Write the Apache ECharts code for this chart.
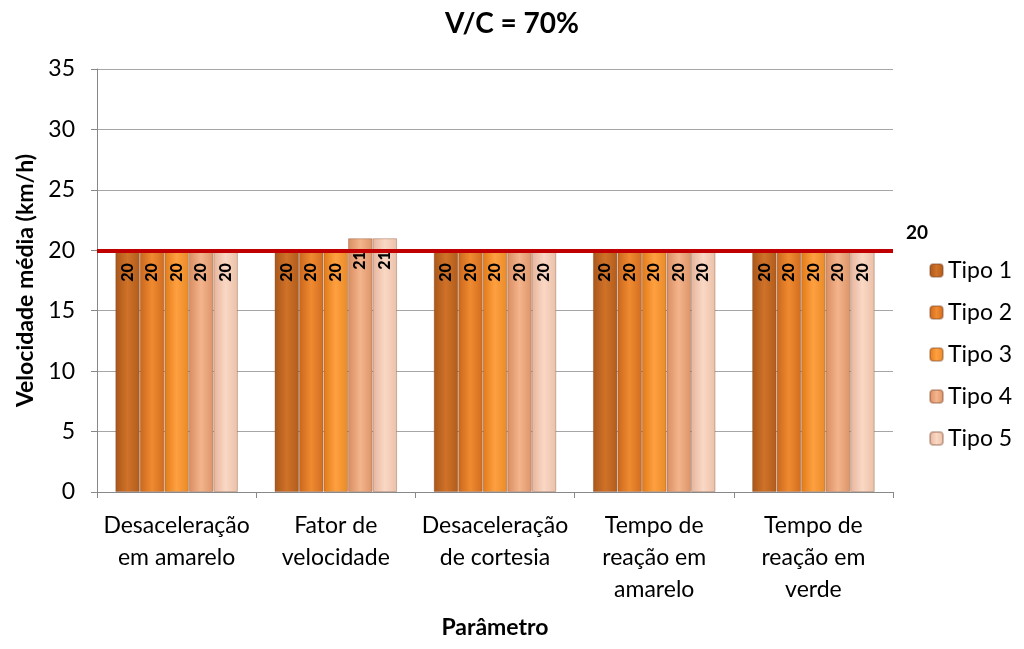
<!DOCTYPE html>
<html><head><meta charset="utf-8">
<script src="https://cdn.jsdelivr.net/npm/echarts@6/dist/echarts.min.js"></script>
<style>html,body{margin:0;padding:0;background:#fff}#c{width:1024px;height:649px}</style>
</head><body><div id="c"></div>
<script>
const categories = ["Desaceleração\nem amarelo", "Fator de\nvelocidade", "Desaceleração\nde cortesia", "Tempo de\nreação em\namarelo", "Tempo de\nreação em\nverde"];
const seriesNames = ["Tipo 1", "Tipo 2", "Tipo 3", "Tipo 4", "Tipo 5"];
const tipo1 = [20, 20, 20, 20, 20];
const tipo2 = [20, 20, 20, 20, 20];
const tipo3 = [20, 20, 20, 20, 20];
const tipo4 = [20, 21, 20, 20, 20];
const tipo5 = [20, 21, 20, 20, 20];
const referenceValue = 20;
const yTicks = [0, 5, 10, 15, 20, 25, 30, 35];

const values = [tipo1, tipo2, tipo3, tipo4, tipo5];
const colors = [
  ['#a8561a', '#d07228', '#b05c1c'],
  ['#c9661c', '#f08a30', '#d06c20'],
  ['#e07a18', '#ffa040', '#e88a28'],
  ['#d88c60', '#f4b48c', '#dc9468'],
  ['#e6b49c', '#fad8c4', '#eac0a8']
];
const FONT = 'Lato, "Open Sans", sans-serif';

const series = seriesNames.map((name, i) => ({
  name: name,
  type: 'bar',
  barGap: '0%',
  barCategoryGap: '23%',
  data: values[i],
  itemStyle: {
    color: new echarts.graphic.LinearGradient(0, 0, 1, 0, [
      {offset: 0, color: colors[i][0]},
      {offset: 0.5, color: colors[i][1]},
      {offset: 1, color: colors[i][2]}
    ]),
    borderColor: 'rgba(120,70,40,0.35)',
    borderWidth: 1
  },
  label: {
    show: true,
    position: 'insideTop',
    rotate: 90,
    align: 'right',
    verticalAlign: 'middle',
    distance: 13,
    color: '#000',
    fontWeight: 900,
    fontSize: 16,
    fontFamily: FONT
  },
  markLine: i === 0 ? {
    symbol: 'none',
    silent: true,
    data: [{yAxis: referenceValue}],
    lineStyle: {color: '#c00000', width: 4, type: 'solid'},
    label: {show: true, position: 'end', formatter: String(referenceValue), color: '#000', fontWeight: 'bold', fontSize: 19, fontFamily: FONT, offset: [8, -17]},
    z: 10
  } : undefined,
  z: 2
}));

const chart = echarts.init(document.getElementById('c'));
chart.setOption({
  animation: false,
  textStyle: {fontFamily: FONT},
  title: {
    text: 'V/C = 70%',
    left: 'center',
    top: 5,
    textStyle: {fontSize: 28, fontWeight: 'bold', color: '#000', fontFamily: FONT}
  },
  legend: {
    orient: 'vertical',
    left: 924,
    top: 254,
    itemWidth: 13,
    itemHeight: 13,
    itemGap: 19,
    textStyle: {fontSize: 23, color: '#000', fontFamily: FONT},
    data: seriesNames
  },
  grid: {left: 97, right: 131, top: 69, bottom: 157},
  xAxis: {
    type: 'category',
    data: categories,
    name: 'Parâmetro',
    nameLocation: 'middle',
    nameGap: 124,
    nameTextStyle: {fontSize: 23, fontWeight: 'bold', color: '#000', fontFamily: FONT},
    axisLine: {lineStyle: {color: '#888'}},
    axisTick: {show: true, length: 6, lineStyle: {color: '#888'}},
    axisLabel: {fontSize: 23, color: '#000', lineHeight: 32, margin: 18, interval: 0, fontFamily: FONT}
  },
  yAxis: {
    type: 'value',
    min: yTicks[0],
    max: yTicks[yTicks.length - 1],
    interval: 5,
    name: 'Velocidade média (km/h)',
    nameLocation: 'middle',
    nameGap: 54,
    nameTextStyle: {fontSize: 23, fontWeight: 'bold', color: '#000', fontFamily: FONT},
    axisLine: {show: true, lineStyle: {color: '#888'}},
    axisTick: {show: true, length: 6, lineStyle: {color: '#888'}},
    axisLabel: {fontSize: 23, color: '#000', margin: 22, fontFamily: FONT},
    splitLine: {lineStyle: {color: '#a6a6a6'}}
  },
  series: series
});
</script>
</body></html>
